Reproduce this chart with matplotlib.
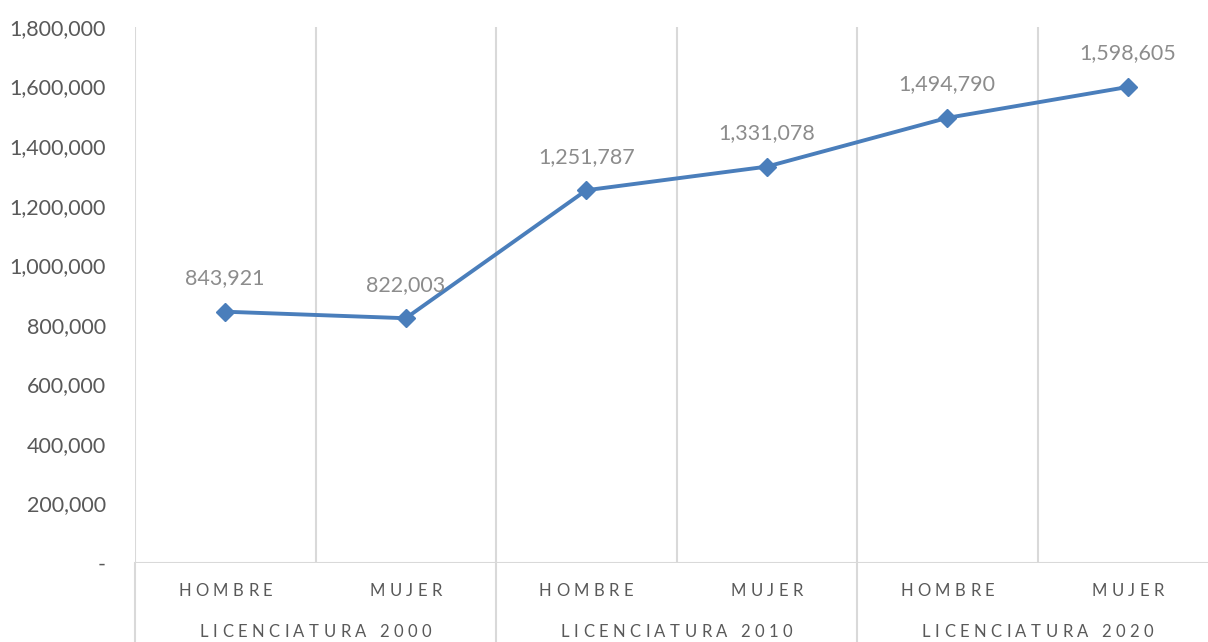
import matplotlib
matplotlib.use("Agg")
import matplotlib.pyplot as plt
from matplotlib.ticker import FuncFormatter
import matplotlib.transforms as mtransforms
from matplotlib.lines import Line2D

plt.rcParams['font.family'] = ['Lato', 'DejaVu Sans']

categories = ["HOMBRE", "MUJER", "HOMBRE", "MUJER", "HOMBRE", "MUJER"]
groups = ["LICENCIATURA 2000", "LICENCIATURA 2010", "LICENCIATURA 2020"]
values = [843921, 822003, 1251787, 1331078, 1494790, 1598605]
yticks = [0, 200000, 400000, 600000, 800000, 1000000, 1200000, 1400000, 1600000, 1800000]

W, H = 1208, 642
fig = plt.figure(figsize=(W / 100, H / 100), dpi=100)
left_px, top_px, bottom_px = 135, 27, 563
cat_w = 180.5
ax = fig.add_axes([left_px / W, (H - bottom_px) / H, (W - left_px) / W, (bottom_px - top_px) / H])
ax.set_xlim(0, (W - left_px) / cat_w)
ax.set_ylim(0, 1800000)

grid_c = '#D9D9D9'
text_c = '#595959'
line_c = '#4A7EBB'

n = len(categories)
xs = [i + 0.5 for i in range(n)]

# vertical gridlines
for b in range(n + 1):
    ax.axvline(b, color=grid_c, lw=1.5, zorder=0)
# group separators extend into label area
for b in range(0, n + 1, 2):
    ax.add_line(Line2D([b, b], [0, -1], transform=ax.get_xaxis_transform(),
                       color=grid_c, lw=1.5, clip_on=False, zorder=0))
ax.axhline(0, color=grid_c, lw=1.5, zorder=0)

for s in ax.spines.values():
    s.set_visible(False)

ax.plot(xs, values, color=line_c, lw=2.8, marker='D', markersize=9, zorder=3)

for x, v in zip(xs, values):
    ax.annotate(f"{v:,}", (x, v), xytext=(0, 17), textcoords='offset points',
                ha='center', va='bottom', color='#8C8C8C', fontsize=15.5)

ax.set_yticks(yticks)
ax.yaxis.set_major_formatter(FuncFormatter(lambda v, p: '-' if v == 0 else f"{int(v):,}"))
ax.tick_params(axis='y', length=0, pad=21, labelsize=15.5, labelcolor=text_c)
ax.set_xticks([])

fig.canvas.draw()
renderer = fig.canvas.get_renderer()

def spaced_text(x, y_px_from_axis, s, track, size):
    # draw string with letter tracking, centered at data x
    widths = []
    for ch in s:
        t = fig.text(0, 0, ch, fontsize=size)
        widths.append(t.get_window_extent(renderer).width if ch != ' ' else size * 0.25 * 100 / 72)
        t.remove()
    total = sum(widths) + track * (len(s) - 1)
    start = -total / 2
    base = ax.get_xaxis_transform()
    off = start
    for ch, w in zip(s, widths):
        tr = mtransforms.offset_copy(base, fig=fig, x=off * 72 / 100, y=-y_px_from_axis * 72 / 100, units='points')
        ax.text(x, 0, ch, transform=tr, ha='left', va='center', fontsize=size,
                color=text_c, clip_on=False)
        off += w + track

for x, c in zip(xs, categories):
    spaced_text(x, 28, c, 4.5, 12)
for g, label in enumerate(groups):
    spaced_text(2 * g + 1, 69, label, 4.5, 12)

fig.savefig("out.png", dpi=100)
